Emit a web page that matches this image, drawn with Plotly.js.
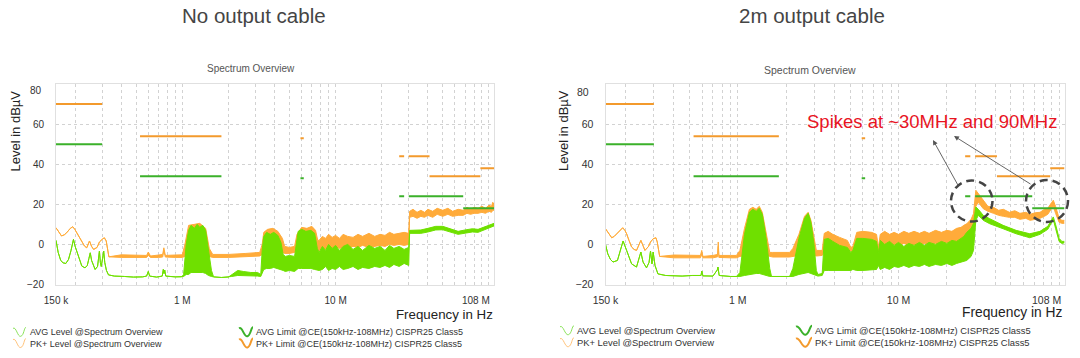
<!DOCTYPE html>
<html>
<head>
<meta charset="utf-8">
<script src="https://cdn.plot.ly/plotly-3.0.1.min.js"></script>
<style>html,body{margin:0;padding:0;background:#fff}#chart{width:1080px;height:358px}</style>
</head>
<body>
<div id="chart"></div>
<script>
// ---------- DATA (frequency in MHz, level in dBµV) ----------
// Chart A: no output cable
const fAvgA = [0.150,0.155,0.161,0.167,0.174,0.181,0.188,0.195,0.200,0.206,0.213,0.221,0.232,0.240,0.246,0.251,0.256,0.262,0.270,0.280,0.288,0.292,0.296,0.302,0.307,0.312,0.320,0.330,0.360,0.420,0.480,0.550,0.585,0.600,0.612,0.680,0.740,0.752,0.760,0.768,0.780,0.900,0.990,
  1.02,1.06,1.10,1.14,1.20,1.25,1.30,1.36,1.42,1.48,1.55,1.60,1.80,2.00,2.10,2.30,2.50,2.80,3.10,3.25,3.32,3.40,3.55,3.75,3.95,4.20,4.40,4.55,4.70,5.00,5.40,5.55,5.70,6.00,6.40,6.90,7.30,7.60,
  7.8,8.2,8.6,9.0,9.5,10,10.6,11.2,12,13,14,15,16.5,18,19.5,21,22.5,24,26,28,30,
  30.4,33,36,40,45,50,55,63,70,78,85,95,108];
const avgHiA = [2,-4,-8,-9.2,-9.5,-7.5,-3,2.5,-1,-4,-8,-10.8,-11.7,-10.5,-7,-4.2,-8,-10.5,-12.5,-11,-3.3,-9,-11,-7,-3.3,-9,-13,-15.2,-15.8,-16,-16.3,-16.2,-15.8,-13.5,-15.8,-16.3,-15.8,-12.5,-14.5,-12.8,-15.8,-16.2,-16.2,
  -15,0,7,9.5,8,10,8.5,9.5,7,-3,-13,-16.2,-16.5,-16.3,-15,-13,-13.5,-14,-14,-15,-3,4,6,5,6,4.5,1,-5,-6,-5.5,-6,2,6.5,7.5,6.5,7,5.5,-2,
  -4,-1,-3,0,-2,-0.5,-3,-1,0,-2.5,-1,-3,-0.5,-2,-1,-3,-0.5,-2,-1,-2.5,-1.5,
  7,7,7.2,8,9,9,8,6.5,7.2,7.8,7.5,9,10.5];
const avgLoA = [2,-4,-8,-9.2,-9.5,-7.5,-3,2.5,-1,-4,-8,-10.8,-11.7,-10.5,-7,-4.2,-8,-10.5,-12.5,-11,-3.3,-9,-11,-7,-3.3,-9,-13,-15.2,-15.8,-16,-16.3,-16.2,-15.8,-13.5,-15.8,-16.3,-15.8,-12.5,-14.5,-12.8,-15.8,-16.2,-16.2,
  -16,-15,-15,-14,-14,-14,-14,-14,-14.5,-15.5,-16,-16.2,-16.5,-16.3,-16,-15.5,-15.5,-15.8,-15.8,-16,-14,-12.5,-12,-12,-11.5,-12,-12.5,-13,-13.5,-13,-13.5,-12.5,-12,-12,-12,-12,-12.5,-13,
  -13,-12.5,-11,-13,-12,-12.5,-11,-12.5,-12,-11,-12.5,-11.5,-12,-11,-11.5,-10.5,-11.5,-10,-11,-9.5,-10.5,
  5.5,5.5,5.5,6.2,7.2,7.3,6.5,5,5.6,6.2,6,7.5,9.2];

const fPkA = [0.150,0.157,0.163,0.170,0.176,0.186,0.193,0.199,0.205,0.213,0.221,0.230,0.238,0.248,0.256,0.264,0.278,0.288,0.300,0.310,0.319,0.326,0.332,
  0.400,0.500,0.585,0.600,0.620,0.700,0.745,0.758,0.775,0.900,1.00,1.04,1.10,1.20,1.30,1.42,1.50,1.58,2.00,2.60,3.20,3.32,3.40,3.60,3.90,4.20,4.50,4.65,5.00,5.40,
  5.60,6.00,6.50,7.00,7.40,7.65,
  7.8,8.2,8.6,9.0,9.5,10,10.6,11.2,12,13,14,15,16.5,18,19.5,21,22.5,24,26,28,30,
  30.4,32,34,36,38,40,43,46,50,54,58,63,68,72,76,80,85,90,95,100,104,106,108];
const pkHiA = [8.3,6,4.2,4.8,5.8,8,8.8,7.5,5.8,3,0.8,-0.8,-1.7,1.7,-1,-2.5,-1.5,1.2,2.5,3.3,1.7,-3,-6.2,
  -5.2,-5.3,-5.5,-3.8,-5.8,-5.3,-5,-1.7,-5.5,-5.3,-5.2,0,9.5,10,10.5,8,-2,-5,-5,-4.5,-4,0,6,7.5,8,6.5,3,-1,-1.5,-1,
  5,8.5,8,9,7,2,
  2,4,3,5,3.5,4.5,3,5,4,3.5,5,4,5.5,4,5,4.5,6,5,5.5,6,5.5,
  16.5,17.5,16,17,16,17.5,16.5,18,17,18,16.5,17.5,17,18.5,17.5,18.5,18,19,18,19.5,19,21,20];
const pkLoA = [8.3,6,4.2,4.8,5.8,8,8.8,7.5,5.8,3,0.8,-0.8,-1.7,1.7,-1,-2.5,-1.5,1.2,2.5,3.3,1.7,-3,-6.2,
  -6.5,-6.5,-6.5,-5.5,-6.5,-6.5,-6.3,-3,-6.3,-6.5,-6.5,-6,-5,-5,-5,-5.5,-6,-6.5,-6.5,-6,-5.8,-5,-4,-4,-4,-4,-4,-4.5,-4.5,-4,
  -3,-3,-3,-3,-3,-3.5,
  -3,-2,-2.5,-1.5,-2,-1,-2,-1.5,-2,-1,-1.5,-0.5,-1.5,-1,-0.5,-1,0,-0.5,0,-0.5,0,
  13.5,14,13,14,13.5,14.5,13.5,15,14,15,14,14.5,14.5,15.5,15,15.5,15.5,16,15.5,16.5,16,17,17];

// Chart B: 2m output cable
const fAvgB = [0.150,0.155,0.161,0.167,0.178,0.186,0.193,0.203,0.218,0.234,0.243,0.249,0.257,0.270,0.280,0.286,0.292,0.297,0.305,0.318,0.355,0.450,0.520,0.590,0.596,0.606,0.700,0.745,0.752,0.765,0.900,0.980,
  1.03,1.10,1.18,1.24,1.30,1.36,1.42,1.50,1.58,1.62,2.10,2.20,2.40,2.60,2.74,2.85,2.98,3.08,3.15,3.35,3.45,3.65,3.90,4.30,4.80,5.05,5.20,5.50,6.00,6.80,7.30,7.50,
  7.7,8.2,8.8,9.4,10,10.8,11.6,12.5,13.5,14.5,15.5,17,18.5,20,21.5,23,24.5,25.5,26.6,
  28.3,29.3,30.3,31.4,33.7,37,44.8,54,65.7,76,85,90,92,95,100,104,108];
const avgHiB = [0,-4.7,-7.5,-8.8,-8,-3,1.7,-3,-9.7,-11.3,-7,-3.8,-8.8,-11.7,-9,-3.3,-9.7,-3.8,-10.5,-14.7,-15.5,-15.8,-15.5,-15.5,-13.3,-15.7,-15.8,-12.7,-11.3,-15.5,-16,-16,
  -14,5,16,17.5,16.5,18,15,3,-12,-16,-16,-12,3,13,15.5,11,0,-13,-15,-14.5,2.5,3,1.5,-0.5,-1.5,-4,-3,3,3,2.5,1.5,-4,
  2,0,1.5,-0.5,1,-1,0.5,-0.5,1,-0.5,1,0,1.5,0.5,2,1.5,3,4,6,
  8,10.5,18.7,17.5,14.5,12.8,9.5,7,5.3,6.5,9,12.5,13.7,10,3,1.5,1.5];
const avgLoB = [0,-4.7,-7.5,-8.8,-8,-3,1.7,-3,-9.7,-11.3,-7,-3.8,-8.8,-11.7,-9,-3.3,-9.7,-3.8,-10.5,-14.7,-15.5,-15.8,-15.5,-15.5,-13.3,-15.7,-15.8,-12.7,-11.3,-15.5,-16,-16,
  -16,-15.5,-15,-14.5,-14.5,-14.5,-15,-15.5,-16,-16,-16,-16,-15,-14.5,-14,-14.5,-15,-15.5,-15.8,-15.5,-13,-13,-13,-13,-13,-13,-12.5,-13,-13,-12.5,-12.5,-10.5,
  -12.5,-11.5,-12.5,-11,-11.5,-10.5,-11.5,-10.5,-11,-10,-11,-10,-10.5,-9.5,-10.5,-9.5,-9,-8.5,-8,
  -6,-3,12,14.5,12,10.3,7.8,5.3,3.3,5,7.5,11,12.5,8,1.5,0.5,0.8];

const fPkB = [0.150,0.157,0.164,0.170,0.176,0.186,0.192,0.198,0.203,0.210,0.218,0.226,0.234,0.249,0.257,0.264,0.278,0.286,0.297,0.309,0.315,0.320,0.326,
  0.400,0.500,0.585,0.596,0.606,0.700,0.748,0.755,0.762,0.900,0.980,1.03,1.10,1.18,1.24,1.30,1.36,1.42,1.50,1.58,
  1.65,2.10,2.20,2.40,2.60,2.74,2.85,2.98,3.08,3.35,3.45,3.65,3.90,4.30,4.80,5.05,5.20,5.50,6.00,6.80,7.30,7.50,
  7.7,8.2,8.8,9.4,10,10.8,11.6,12.5,13.5,14.5,15.5,17,18.5,20,21.5,23,24.5,25.5,26.6,
  28.3,29.3,30.3,31.4,
  33.7,36,39,42,45,49,53,57,62,66,71,76,81,85,
  90,92,95,100,104,108];
const pkHiB = [7.8,5.5,3.3,4,5.3,7.5,8.3,7,5.3,2,-1.3,-2.5,-3,2,-1,-3,-1,1.2,2.8,3.3,1.2,-2,-6,
  -5.3,-5.5,-5.5,-3,-6,-5.5,-5,1.2,-5.5,-5.5,-5.5,-3,8,17.5,18.5,17.5,19,16,5,-4,
  -4,-4,-2,5,14,16,12,2,-3,-3,5.5,6.5,5,3.5,2,-1.5,-1,6,6.5,6,5,-1.5,
  5,6.5,5,6,5,6.5,5.5,6.5,5.5,6.5,5.5,7,6,7,6.5,8,8.5,9.5,10.3,
  12.5,15.3,27,25.3,
  22,19,18.5,17,17.5,16,16.8,15.5,16,15,15.8,16,17.5,18,
  21,22,19,13,12,12];
const pkLoB = [7.8,5.5,3.3,4,5.3,7.5,8.3,7,5.3,2,-1.3,-2.5,-3,2,-1,-3,-1,1.2,2.8,3.3,1.2,-2,-6,
  -6.7,-6.8,-6.7,-5,-6.7,-6.7,-6.2,-1,-6.5,-6.7,-6.7,-6,-5.5,-5,-5,-5,-5,-5,-5.5,-6,
  -6.3,-6.3,-6,-5.5,-5,-5,-5,-5.5,-5.8,-5.5,-3,-3,-2.5,-2.5,-3,-3.5,-3.5,-2,-2,-2,-2,-3.5,
  -1,-0.5,-1,0,-0.5,0.5,-0.5,0,-0.5,0.5,0,0.5,0,1,0.5,1.2,2,2.5,3,
  5,8,19,21,
  17.8,16.5,15.5,14.5,14,13.5,13.5,12.5,13,12,12.5,13,14,15,
  18,19,15.5,11,10.5,10.5];

// Limits: CE (150kHz-108MHz) CISPR25 Class5
const pkLimStart = [0.15,0.53,5.9,26,30,41,88];
const pkLimEnd   = [0.30,1.8,6.2,28,41,88,108];
const pkLimVal   = [70,54,53,44,44,34,38];
const avgLimStart = [0.15,0.53,5.9,26,30,68];
const avgLimEnd   = [0.30,1.8,6.2,28,68,108];
const avgLimVal   = [50,34,33,24,24,18];

const xTickVals = [0.15,1,10];
const xTickText = ['150 k','1 M','10 M'];
const yTickVals = [-20,0,20,40,60];
const legendTexts = ['AVG Level @Spectrum Overview','PK+ Level @Spectrum Overview',
  'AVG Limit @CE(150kHz-108MHz) CISPR25 Class5','PK+ Limit @CE(150kHz-108MHz) CISPR25 Class5'];

// ---------- STYLE ----------
const C_AVG = '#6fe000', C_PK = '#ffab3a', C_AVGLIM = '#3bb12a', C_PKLIM = '#f39a2c';
const W = 1080, H = 358;
const px = x => x / W, py = y => 1 - y / H;
const FONT = 'Liberation Sans, Arial, Helvetica, sans-serif';

function band(x, hi, lo, color, xa, ya){
  return [
    {x:x, y:lo, xaxis:xa, yaxis:ya, type:'scatter', mode:'lines', line:{color:color, width:1}, hoverinfo:'skip'},
    {x:x, y:hi, xaxis:xa, yaxis:ya, type:'scatter', mode:'lines', line:{color:color, width:1}, fill:'tonexty', fillcolor:color, hoverinfo:'skip'}
  ];
}
function limit(st, en, val, color, xa, ya){
  const x = [], y = [];
  st.forEach((s,i)=>{ x.push(s, en[i], null); y.push(val[i], val[i], null); });
  return {x:x, y:y, xaxis:xa, yaxis:ya, type:'scatter', mode:'lines', line:{color:color, width:2}, connectgaps:false, hoverinfo:'skip'};
}

const traces = [
  ...band(fPkA, pkHiA, pkLoA, C_PK, 'x', 'y'),
  ...band(fAvgA, avgHiA, avgLoA, C_AVG, 'x', 'y'),
  limit(pkLimStart, pkLimEnd, pkLimVal, C_PKLIM, 'x', 'y'),
  limit(avgLimStart, avgLimEnd, avgLimVal, C_AVGLIM, 'x', 'y'),
  ...band(fPkB, pkHiB, pkLoB, C_PK, 'x2', 'y2'),
  ...band(fAvgB, avgHiB, avgLoB, C_AVG, 'x2', 'y2'),
  limit(pkLimStart, pkLimEnd, pkLimVal, C_PKLIM, 'x2', 'y2'),
  limit(avgLimStart, avgLimEnd, avgLimVal, C_AVGLIM, 'x2', 'y2')
];

const GRID = '#d2d2d2';
function xAx(domain, anchor, fs){
  return {type:'log', domain:domain, anchor:anchor, range:[Math.log10(0.15), Math.log10(108)],
    tickmode:'array', tickvals:xTickVals, ticktext:xTickText, tickfont:{size:fs, color:'#333', family:FONT},
    showgrid:true, gridcolor:GRID, griddash:'dot', gridwidth:1,
    minor:{dtick:'D1', showgrid:true, gridcolor:GRID, griddash:'dot', gridwidth:1, ticks:''},
    showline:true, mirror:true, linecolor:'#e0e0e0', linewidth:1, ticks:'', zeroline:false,
    automargin:false, fixedrange:true, ticklabelstandoff:6};
}
function yAx(anchor, fs){
  return {domain:[py(284.5), py(84)], anchor:anchor, range:[-20,80], tickmode:'array', tickvals:yTickVals,
    tickfont:{size:fs, color:'#333', family:FONT}, showgrid:true, gridcolor:GRID, griddash:'dot', gridwidth:1,
    showline:true, mirror:true, linecolor:'#e0e0e0', linewidth:1, ticks:'', zeroline:false,
    automargin:false, fixedrange:true, ticklabelstandoff:9};
}

function txt(t, x, y, size, color, xanchor, extra){
  return Object.assign({text:t, x:px(x), y:py(y), xref:'paper', yref:'paper', showarrow:false,
    xanchor:xanchor||'center', yanchor:'middle', font:{family:FONT, size:size, color:color}}, extra||{});
}
function wave(x0, yc, w, color, lw){
  const P = (x,y)=> px(x).toFixed(5)+','+py(y).toFixed(5);
  const path = 'M'+P(x0,yc-4)+' C'+P(x0+w*0.25,yc-6)+' '+P(x0+w*0.35,yc+5)+' '+P(x0+w*0.6,yc+4)+
               ' S'+P(x0+w*0.85,yc-5)+' '+P(x0+w,yc-5);
  return {type:'path', xref:'paper', yref:'paper', path:path, line:{color:color, width:lw}};
}

const annotations = [
  txt('No output cable', 254.5, 15.5, 20.5, '#454545'),
  txt('2m output cable', 812, 15.5, 20.5, '#454545'),
  txt('Spectrum Overview', 251, 68.5, 10, '#555'),
  txt('Spectrum Overview', 810, 70, 10.5, '#555'),
  txt('Level in dBµV', 15.5, 131, 13, '#222', 'center', {textangle:-90}),
  txt('Level in dBµV', 564, 131, 13, '#222', 'center', {textangle:-90}),
  txt('80', 43.5, 90, 10, '#333', 'right'),
  txt('80', 591, 91.5, 10.5, '#333', 'right'),
  txt('Frequency in Hz', 494.5, 314, 13.3, '#222', 'right'),
  txt('Frequency in Hz', 1065, 312.7, 13.8, '#222', 'right'),
  txt('108 M', 492, 300.5, 10, '#333', 'right'),
  txt('108 M', 1062.5, 299.5, 10.5, '#333', 'right'),
  txt('Spikes at ~30MHz and 90MHz', 805, 121.5, 18.5, '#e8141f', 'left'),
  // legend A
  txt(legendTexts[0], 27.6, 332.3, 9, '#333', 'left'),
  txt(legendTexts[1], 27.6, 343.5, 9, '#333', 'left'),
  txt(legendTexts[2], 254, 332.3, 9, '#333', 'left'),
  txt(legendTexts[3], 254, 343.5, 9, '#333', 'left'),
  // legend B
  txt(legendTexts[0], 575, 330.7, 9.4, '#333', 'left'),
  txt(legendTexts[1], 575, 342.7, 9.4, '#333', 'left'),
  txt(legendTexts[2], 813, 330.7, 9.4, '#333', 'left'),
  txt(legendTexts[3], 813, 342.7, 9.4, '#333', 'left'),
  // arrows
  {x:px(933), y:py(140), xref:'paper', yref:'paper', text:'', showarrow:true, ax:26, ay:47,
   arrowhead:2, arrowsize:1.1, arrowwidth:0.9, arrowcolor:'#555', standoff:0},
  {x:px(954), y:py(136), xref:'paper', yref:'paper', text:'', showarrow:true, ax:78, ay:49,
   arrowhead:2, arrowsize:1.1, arrowwidth:0.9, arrowcolor:'#555', standoff:0}
];

const shapes = [
  wave(13, 332.3, 13, '#8be35a', 1),
  wave(13, 343.5, 13, '#ffc37a', 1),
  wave(239, 332.3, 14, C_AVGLIM, 2),
  wave(239, 343.5, 14, C_PKLIM, 2),
  wave(560, 330.7, 14, '#8be35a', 1),
  wave(560, 342.7, 14, '#ffc37a', 1),
  wave(796, 330.7, 16, C_AVGLIM, 2),
  wave(796, 342.7, 16, C_PKLIM, 2),
  {type:'circle', xref:'paper', yref:'paper', x0:px(951), x1:px(992.5), y0:py(221.5), y1:py(180.5),
   line:{color:'#444', width:2.5, dash:'8px,5px'}},
  {type:'circle', xref:'paper', yref:'paper', x0:px(1026), x1:px(1068), y0:py(222), y1:py(180),
   line:{color:'#444', width:2.5, dash:'8px,5px'}}
];

const layout = {
  width:W, height:H, margin:{l:0,r:0,t:0,b:0}, paper_bgcolor:'#fff', plot_bgcolor:'#fff',
  showlegend:false, font:{family:FONT, color:'#333'},
  xaxis: xAx([px(56), px(494)], 'y', 10),
  yaxis: yAx('x', 10),
  xaxis2: xAx([px(605.5), px(1064.5)], 'y2', 10.5),
  yaxis2: yAx('x2', 10.5),
  annotations: annotations, shapes: shapes
};

Plotly.newPlot('chart', traces, layout, {staticPlot:true, displayModeBar:false});
</script>
</body>
</html>
